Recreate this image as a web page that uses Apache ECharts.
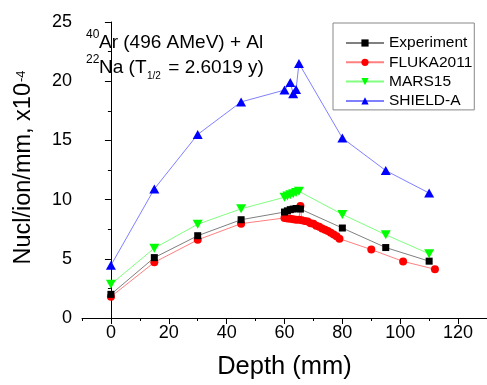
<!DOCTYPE html>
<html>
<head>
<meta charset="utf-8">
<script src="https://cdn.jsdelivr.net/npm/echarts@6/dist/echarts.min.js"></script>
<style>
  html, body { margin: 0; padding: 0; background: #fff; }
  #chart { width: 487px; height: 385px; }
</style>
</head>
<body>
<div id="chart"></div>
<script>
// Residual 22Na production along the Al target depth
const depthExp = [0, 15, 30, 45, 60, 61, 62, 63, 64, 65.5, 80, 95, 110];
const expValues = [2.0, 5.1, 6.95, 8.3, 8.95, 9.05, 9.15, 9.2, 9.25, 9.2, 7.6, 5.95, 4.8];
const expErrors = [0.2, 0.2, 0.2, 0.2, 0.2, 0.2, 0.2, 0.2, 0.2, 0.2, 0.2, 0.2, 0.2];

const depthFluka = [0, 15, 30, 45, 60, 61, 62, 63, 64, 65, 65.5, 66, 67, 68, 69, 70, 71, 72, 73, 74, 75, 76, 77, 78, 79, 90, 101, 112];
const flukaValues = [1.8, 4.7, 6.6, 7.97, 8.45, 8.4, 8.38, 8.35, 8.3, 8.3, 9.45, 8.25, 8.2, 8.15, 8.0, 7.95, 7.8, 7.7, 7.55, 7.45, 7.35, 7.2, 7.05, 6.9, 6.7, 5.78, 4.78, 4.12];

const depthMars = [0, 15, 30, 45, 60, 61, 62, 63, 64, 65, 80, 95, 110];
const marsValues = [2.85, 5.9, 7.92, 9.22, 10.2, 10.3, 10.4, 10.5, 10.6, 10.7, 8.75, 7.03, 5.42];

const depthShield = [0, 15, 30, 45, 60, 62, 63, 64, 65, 80, 95, 110];
const shieldValues = [4.45, 10.9, 15.5, 18.25, 19.25, 19.9, 18.95, 19.3, 21.5, 15.2, 12.45, 10.55];

const xMajorTicks = [0, 20, 40, 60, 80, 100, 120];
const xMinorTicks = [-10, 10, 30, 50, 70, 90, 110, 130];
const seriesNames = ['Experiment', 'FLUKA2011', 'MARS15', 'SHIELD-A'];

const FONT = '"Liberation Sans", Arial, sans-serif';
const zip = (xs, ys) => xs.map((x, i) => [x, ys[i]]);
const downTriangle = 'path://M0,0 L10,0 L5,9 Z';

const chart = echarts.init(document.getElementById('chart'), null, { renderer: 'canvas' });

const xCommon = {
  type: 'value', min: -10, max: 130, gridIndex: 0, position: 'bottom',
  splitLine: { show: false }
};

chart.setOption({
  animation: false,
  backgroundColor: '#fff',
  textStyle: { fontFamily: FONT },
  grid: { left: 82, top: 22, width: 406, height: 300 },
  xAxis: [
    Object.assign({}, xCommon, {
      name: 'Depth (mm)', nameLocation: 'middle', nameGap: 36,
      nameTextStyle: { fontSize: 25.5, color: '#000', fontFamily: FONT },
      axisLine: { lineStyle: { color: '#000', width: 1 } },
      axisTick: { show: true, length: 6, inside: false, customValues: xMajorTicks, lineStyle: { color: '#000' } },
      axisLabel: { customValues: xMajorTicks, fontSize: 18, color: '#000', margin: 6, fontFamily: FONT }
    }),
    Object.assign({}, xCommon, {
      axisLine: { show: false },
      axisTick: { show: true, length: 3, customValues: xMinorTicks, lineStyle: { color: '#000' } },
      axisLabel: { show: false }
    })
  ],
  yAxis: {
    type: 'value', min: 0, max: 25, interval: 5,
    axisLine: { show: true, lineStyle: { color: '#000', width: 1 } },
    axisTick: { show: true, length: 6, lineStyle: { color: '#000' } },
    minorTick: { show: true, splitNumber: 2, length: 3, lineStyle: { color: '#000' } },
    splitLine: { show: false },
    axisLabel: { fontSize: 18, color: '#000', margin: 10, fontFamily: FONT }
  },
  legend: {
    orient: 'vertical', left: 333, top: 23,
    data: seriesNames,
    itemWidth: 38, itemHeight: 9, itemGap: 3.3,
    padding: [12, 2, 1, 12],
    borderColor: '#888', borderWidth: 1,
    textStyle: { fontSize: 15.5, color: '#000', fontFamily: FONT, lineHeight: 16 }
  },
  graphic: [
    { type: 'text', left: 86, top: 29, style: { text: '40', fontSize: 12, fontFamily: FONT, fill: '#000' } },
    { type: 'text', left: 99, top: 33, style: { text: 'Ar (496 AMeV) + Al', fontSize: 19, fontFamily: FONT, fill: '#000' } },
    { type: 'text', left: 86, top: 54, style: { text: '22', fontSize: 12, fontFamily: FONT, fill: '#000' } },
    { type: 'text', left: 99, top: 58, style: { text: 'Na (T', fontSize: 19, fontFamily: FONT, fill: '#000' } },
    { type: 'text', left: 147, top: 71, style: { text: '1/2', fontSize: 10, fontFamily: FONT, fill: '#000' } },
    { type: 'text', left: 163, top: 58, style: { text: ' = 2.6019 y)', fontSize: 19, fontFamily: FONT, fill: '#000' } },
    { type: 'text', x: 24, y: 83, rotation: Math.PI / 2,
      style: { text: 'Nucl/ion/mm, x10', fontSize: 23.5, fontFamily: FONT, fill: '#000', align: 'right', verticalAlign: 'middle' } },
    { type: 'text', x: 21, y: 82, rotation: Math.PI / 2,
      style: { text: '-4', fontSize: 13, fontFamily: FONT, fill: '#000', align: 'left', verticalAlign: 'middle' } }
  ],
  series: [
    {
      name: 'Experiment-err', type: 'custom', xAxisIndex: 0, z: 1,
      data: depthExp.map((d, i) => [d, expValues[i] - expErrors[i], expValues[i] + expErrors[i]]),
      renderItem: function (params, api) {
        const lo = api.coord([api.value(0), api.value(1)]);
        const hi = api.coord([api.value(0), api.value(2)]);
        const cap = 3;
        const style = { stroke: '#808080', lineWidth: 1 };
        return {
          type: 'group',
          children: [
            { type: 'line', shape: { x1: lo[0], y1: lo[1], x2: hi[0], y2: hi[1] }, style: style },
            { type: 'line', shape: { x1: lo[0] - cap, y1: lo[1], x2: lo[0] + cap, y2: lo[1] }, style: style },
            { type: 'line', shape: { x1: hi[0] - cap, y1: hi[1], x2: hi[0] + cap, y2: hi[1] }, style: style }
          ]
        };
      }
    },
    {
      name: 'Experiment', type: 'line', xAxisIndex: 0, z: 5,
      data: zip(depthExp, expValues),
      symbol: 'rect', symbolSize: 7,
      itemStyle: { color: '#000' },
      lineStyle: { color: '#808080', width: 1 }
    },
    {
      name: 'FLUKA2011', type: 'line', xAxisIndex: 0, z: 4,
      data: zip(depthFluka, flukaValues),
      symbol: 'circle', symbolSize: 8,
      itemStyle: { color: '#ff0000' },
      lineStyle: { color: '#ff8080', width: 1 }
    },
    {
      name: 'MARS15', type: 'line', xAxisIndex: 0, z: 3,
      data: zip(depthMars, marsValues),
      symbol: downTriangle, symbolSize: [10, 9], symbolKeepAspect: false,
      itemStyle: { color: '#00ff00' },
      lineStyle: { color: '#80ff80', width: 1 }
    },
    {
      name: 'SHIELD-A', type: 'line', xAxisIndex: 0, z: 3,
      data: zip(depthShield, shieldValues),
      symbol: 'triangle', symbolSize: [10, 9],
      itemStyle: { color: '#0000ff' },
      lineStyle: { color: '#8080ff', width: 1 }
    }
  ]
});
</script>
</body>
</html>
